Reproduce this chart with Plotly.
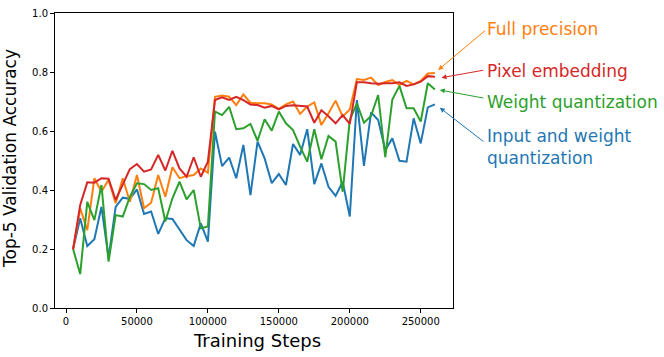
import plotly.graph_objects as go

steps = [5000 * i for i in range(1, 53)]

full_precision = [0.2, 0.338, 0.264, 0.44, 0.394, 0.435, 0.355, 0.44, 0.36, 0.451,
                  0.338, 0.357, 0.451, 0.377, 0.477, 0.44, 0.447, 0.451, 0.473, 0.458,
                  0.716, 0.72, 0.716, 0.688, 0.724, 0.696, 0.694, 0.694, 0.69, 0.675,
                  0.69, 0.7, 0.658, 0.683, 0.697, 0.62, 0.66, 0.703, 0.649, 0.673,
                  0.776, 0.773, 0.781, 0.756, 0.766, 0.773, 0.756, 0.77, 0.758, 0.77,
                  0.795, 0.797]

pixel_embedding = [0.199, 0.349, 0.426, 0.425, 0.44, 0.438, 0.366, 0.42, 0.471, 0.488,
                   0.462, 0.47, 0.519, 0.466, 0.533, 0.473, 0.445, 0.511, 0.445, 0.496,
                   0.705, 0.714, 0.705, 0.716, 0.705, 0.69, 0.688, 0.679, 0.685, 0.673,
                   0.685, 0.687, 0.685, 0.683, 0.628, 0.67, 0.65, 0.626, 0.654, 0.624,
                   0.765, 0.765, 0.762, 0.76, 0.762, 0.762, 0.765, 0.753, 0.758, 0.767,
                   0.786, 0.784]

weight_quant = [0.2, 0.115, 0.36, 0.298, 0.417, 0.157, 0.315, 0.31, 0.377, 0.423,
                0.42, 0.4, 0.406, 0.293, 0.372, 0.428, 0.368, 0.4, 0.27, 0.276,
                0.666, 0.654, 0.682, 0.606, 0.609, 0.624, 0.567, 0.64, 0.601, 0.666,
                0.626, 0.603, 0.547, 0.496, 0.606, 0.504, 0.583, 0.564, 0.394, 0.637,
                0.694, 0.628, 0.651, 0.722, 0.511, 0.707, 0.753, 0.677, 0.677, 0.632,
                0.762, 0.741]

input_weight_quant = [0.2, 0.304, 0.21, 0.233, 0.343, 0.17, 0.343, 0.374, 0.37, 0.402,
                      0.319, 0.327, 0.251, 0.304, 0.302, 0.264, 0.23, 0.21, 0.287, 0.225,
                      0.598, 0.481, 0.51, 0.44, 0.553, 0.383, 0.564, 0.507, 0.423, 0.454,
                      0.417, 0.556, 0.519, 0.606, 0.42, 0.49, 0.411, 0.38, 0.428, 0.31,
                      0.705, 0.482, 0.663, 0.637, 0.536, 0.575, 0.499, 0.496, 0.643, 0.558,
                      0.68, 0.69]

x_ticks = [0, 50000, 100000, 150000, 200000, 250000]
y_ticks = [0.0, 0.2, 0.4, 0.6, 0.8, 1.0]

BLUE, ORANGE, GREEN, RED = "#1f77b4", "#ff7f0e", "#2ca02c", "#d62728"
FONT = "DejaVu Sans"

series = [
    ("Input and weight quantization", input_weight_quant, BLUE),
    ("Full precision", full_precision, ORANGE),
    ("Weight quantization", weight_quant, GREEN),
    ("Pixel embedding", pixel_embedding, RED),
]

fig = go.Figure()
for name, vals, col in series:
    fig.add_trace(go.Scatter(x=steps, y=vals, mode="lines", name=name,
                             line=dict(color=col, width=2)))

W, H = 664, 357
L, R, T, B = 55, 211, 13, 49

fig.update_layout(
    width=W, height=H,
    margin=dict(l=L, r=R, t=T, b=B, autoexpand=False),
    plot_bgcolor="white", paper_bgcolor="white",
    showlegend=False,
    font=dict(family=FONT, color="black", size=10),
)
fig.update_xaxes(
    range=[-7750, 272750], tickvals=x_ticks, ticktext=[str(v) for v in x_ticks],
    showgrid=False, zeroline=False, showline=True, linecolor="black", linewidth=1,
    mirror=True, ticks="outside", ticklen=4, tickcolor="black", automargin=False,
    tickfont=dict(size=10, family=FONT),
)
fig.update_yaxes(
    range=[0, 1], tickvals=y_ticks, ticktext=[f"{v:.1f}" for v in y_ticks],
    showgrid=False, zeroline=False, showline=True, linecolor="black", linewidth=1,
    mirror=True, ticks="outside", ticklen=4, tickcolor="black", automargin=False,
    tickfont=dict(size=10, family=FONT),
)

pw, ph = W - L - R, H - T - B

def px(xp):
    return (xp - L) / pw

def py(yp):
    return (H - B - yp) / ph

# axis titles placed as annotations
fig.add_annotation(x=px(257), y=py(340), xref="paper", yref="paper",
                   text="Training Steps", showarrow=False,
                   xanchor="center", yanchor="middle",
                   font=dict(size=18, family=FONT, color="black"))
fig.add_annotation(x=px(10), y=py(159), xref="paper", yref="paper",
                   text="Top-5 Validation Accuracy", showarrow=False, textangle=-90,
                   xanchor="center", yanchor="middle",
                   font=dict(size=17, family=FONT, color="black"))

labels = [
    ("Full precision", 29, ORANGE),
    ("Pixel embedding", 71, RED),
    ("Weight quantization", 102, GREEN),
    ("Input and weight<br>quantization", 147, BLUE),
]
for text, ycen, col in labels:
    fig.add_annotation(x=px(485), y=py(ycen), xref="paper", yref="paper",
                       text=text, showarrow=False, xanchor="left", yanchor="middle",
                       align="left", font=dict(size=17, family=FONT, color=col))

arrows = [
    (296470, 0.9447, 262300, 0.8068, ORANGE),
    (295060, 0.8068, 264630, 0.7807, RED),
    (295270, 0.7108, 263430, 0.739, GREEN),
    (295270, 0.5603, 263430, 0.679, BLUE),
]
for ax, ay, hx, hy, col in arrows:
    fig.add_annotation(x=hx, y=hy, ax=ax, ay=ay, xref="x", yref="y",
                       axref="x", ayref="y", text="", showarrow=True,
                       arrowhead=2, arrowsize=1, arrowwidth=1, arrowcolor=col)

fig.write_html("out.html", config={"displayModeBar": False},
               post_script="document.body.style.margin='0';document.body.style.overflow='hidden';")
